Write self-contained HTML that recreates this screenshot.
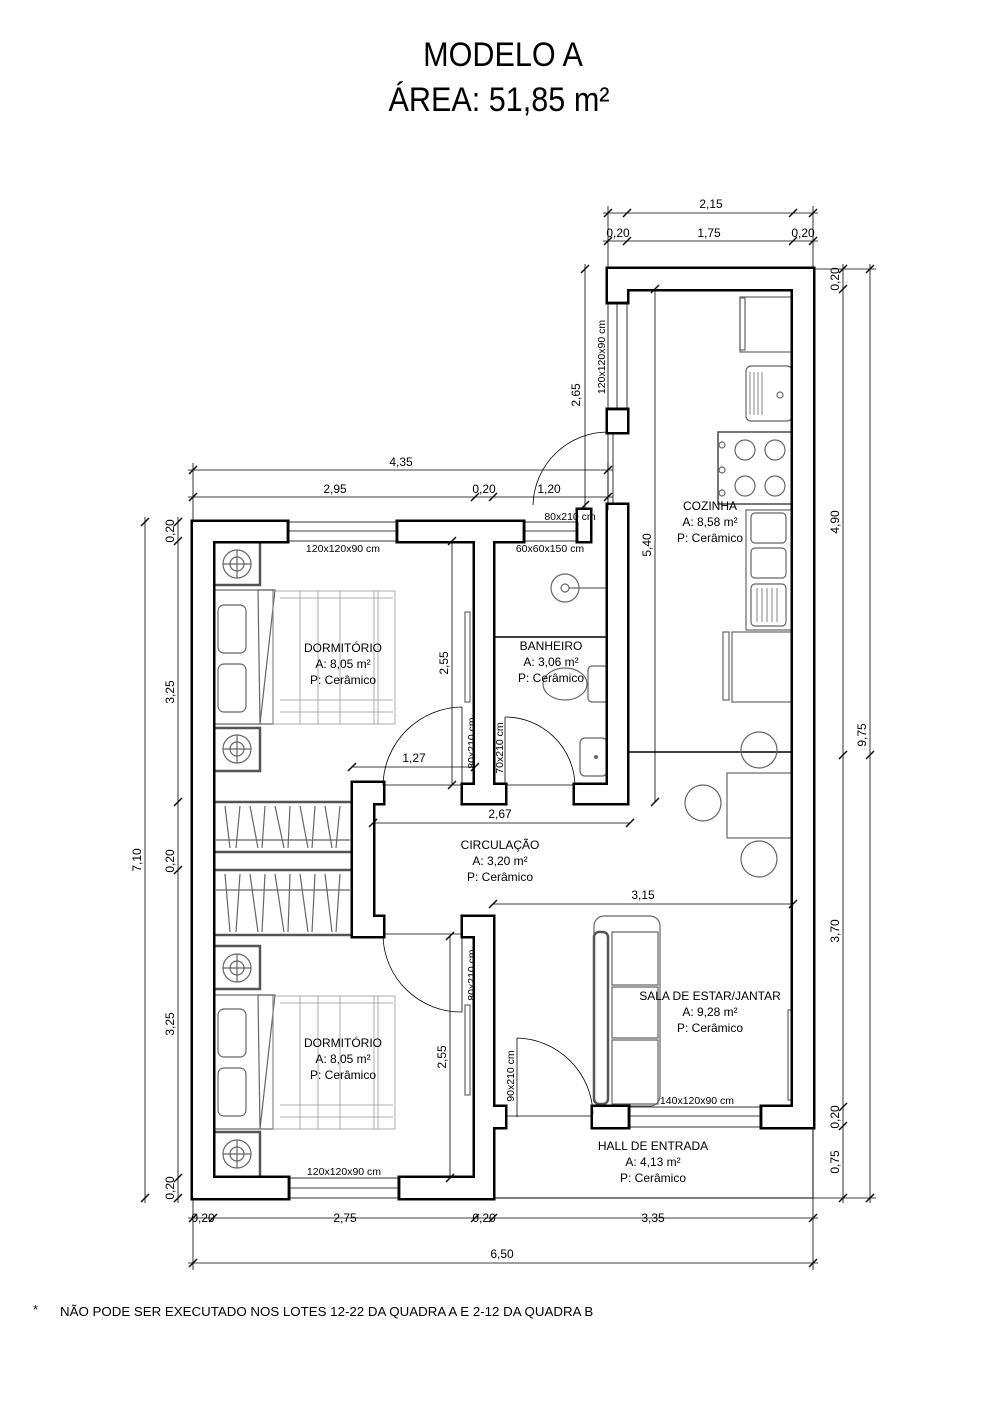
<!DOCTYPE html>
<html><head><meta charset="utf-8"><style>
html,body{margin:0;padding:0;background:#fff}
svg{display:block}
text{font-family:"Liberation Sans",Arial,sans-serif;fill:#000}
.t{font-size:12px}
.d{font-size:12px}
.thin{stroke:#000;stroke-width:0.8;fill:none}
.tick{stroke:#000;stroke-width:1.4}
.f{fill:none;stroke:#666;stroke-width:1.2}
.fd{fill:none;stroke:#555;stroke-width:2.5}
</style></head><body>
<svg width="1000" height="1415" viewBox="0 0 1000 1415" xmlns="http://www.w3.org/2000/svg">
<defs>
<g id="walls">
 <rect x="193" y="522" width="20" height="676"/>
 <rect x="193" y="522" width="94" height="19"/>
 <rect x="398" y="522" width="125" height="19"/>
 <rect x="578" y="510" width="12" height="31"/>
 <rect x="475" y="522" width="18" height="281"/>
 <rect x="463" y="785" width="30" height="18"/>
 <rect x="493" y="785" width="12" height="18"/>
 <rect x="575" y="785" width="52" height="18"/>
 <rect x="608" y="505" width="19" height="298"/>
 <rect x="608" y="269" width="205" height="20"/>
 <rect x="608" y="269" width="19" height="33"/>
 <rect x="608" y="410" width="19" height="22"/>
 <rect x="793" y="269" width="20" height="857"/>
 <rect x="353" y="783" width="30" height="20"/>
 <rect x="353" y="783" width="20" height="153"/>
 <rect x="353" y="917" width="30" height="19"/>
 <rect x="463" y="917" width="30" height="19"/>
 <rect x="475" y="917" width="18" height="281"/>
 <rect x="193" y="1178" width="95" height="20"/>
 <rect x="400" y="1178" width="93" height="20"/>
 <rect x="493" y="1107" width="12" height="20"/>
 <rect x="593" y="1107" width="35" height="20"/>
 <rect x="762" y="1107" width="51" height="20"/>
</g>
</defs>
<!-- titles -->
<text x="503" y="66" font-size="34" text-anchor="middle" transform="translate(503 0) scale(0.9 1) translate(-503 0)">MODELO A</text>
<text x="499" y="111" font-size="34" text-anchor="middle" transform="translate(499 0) scale(0.9 1) translate(-499 0)">ÁREA: 51,85 m²</text>

<polyline class="thin" points="493,1198 813,1198 813,1126" style="stroke-width:1"/>

<!-- furniture -->
<g>
 <rect x="213" y="542" width="47" height="43" class="fd"/><circle cx="237" cy="564" r="14" class="f"/><circle cx="237" cy="564" r="7" class="f"/><line x1="223" y1="564" x2="251" y2="564" class="f"/><line x1="237" y1="550" x2="237" y2="578" class="f"/>
 <rect x="213" y="728" width="47" height="43" class="fd"/><circle cx="237" cy="749" r="14" class="f"/><circle cx="237" cy="749" r="7" class="f"/><line x1="223" y1="749" x2="251" y2="749" class="f"/><line x1="237" y1="735" x2="237" y2="763" class="f"/>
 <rect x="213" y="590" width="60" height="134" class="f"/><rect x="218" y="605" width="28" height="48" rx="6" class="f"/><rect x="218" y="664" width="28" height="48" rx="6" class="f"/>
 <path d="M258,590 L275,590 L260,724 Z" class="f"/>
 <rect x="273" y="591" width="122" height="133" class="f" style="stroke:#999;stroke-width:0.8"/>
 <path d="M280,598H393M280,700H393M280,712H393M300,591V724M318,591V724M340,591V724M374,591V724M378,591V724" class="f" style="stroke:#999;stroke-width:0.8"/>
 <rect x="213" y="802" width="139" height="50" class="fd"/><line x1="216" y1="840" x2="350" y2="840" class="f"/>
 <path d="M225,806 L230,848 M240,806 L236,848 M250,806 L258,848 M265,806 L262,848 M275,806 L284,848 M290,806 L288,848 M300,806 L308,848 M315,806 L312,848 M325,806 L332,848 M340,806 L336,848" class="f"/>
 <rect x="213" y="870" width="139" height="65" class="fd"/><line x1="216" y1="890" x2="350" y2="890" class="f"/>
 <path d="M225,874 L230,932 M240,874 L236,932 M250,874 L258,932 M265,874 L262,932 M275,874 L284,932 M290,874 L288,932 M300,874 L308,932 M315,874 L312,932 M325,874 L332,932 M340,874 L336,932" class="f"/>
 <rect x="213" y="946" width="47" height="43" class="fd"/><circle cx="237" cy="968" r="14" class="f"/><circle cx="237" cy="968" r="7" class="f"/><line x1="223" y1="968" x2="251" y2="968" class="f"/><line x1="237" y1="954" x2="237" y2="982" class="f"/>
 <rect x="213" y="1132" width="47" height="46" class="fd"/><circle cx="237" cy="1154" r="14" class="f"/><circle cx="237" cy="1154" r="7" class="f"/><line x1="223" y1="1154" x2="251" y2="1154" class="f"/><line x1="237" y1="1140" x2="237" y2="1168" class="f"/>
 <rect x="213" y="995" width="60" height="134" class="f"/><rect x="218" y="1009" width="28" height="48" rx="6" class="f"/><rect x="218" y="1068" width="28" height="48" rx="6" class="f"/>
 <path d="M258,995 L275,995 L260,1129 Z" class="f"/>
 <rect x="273" y="996" width="122" height="133" class="f" style="stroke:#999;stroke-width:0.8"/>
 <path d="M280,1003H393M280,1105H393M280,1117H393M300,996V1129M318,996V1129M340,996V1129M374,996V1129M378,996V1129" class="f" style="stroke:#999;stroke-width:0.8"/>
 <line x1="493" y1="637" x2="608" y2="637" stroke="#000" stroke-width="1.6"/>
 <circle cx="565" cy="588" r="14" class="f"/><circle cx="565" cy="588" r="4" class="f"/><line x1="569" y1="588" x2="606" y2="588" class="f"/>
 <rect x="588" y="666" width="20" height="36" rx="4" class="f"/><ellipse cx="565" cy="684" rx="22" ry="16" class="f"/>
 <rect x="580" y="738" width="27" height="38" rx="5" class="f"/><circle cx="596" cy="757" r="2" fill="#666"/>
 <rect x="740" y="297" width="52" height="55" class="f"/><rect x="740" y="298" width="5" height="52" class="f"/>
 <rect x="746" y="366" width="46" height="55" rx="5" class="f"/><path d="M750,372V415M754,372V415M758,372V415M762,372V415" class="f" style="stroke-width:0.8"/><circle cx="780" cy="395" r="3" class="f"/>
 <rect x="718" y="432" width="75" height="72" class="fd" style="stroke-width:1.6"/>
 <circle cx="745" cy="450" r="10" class="f"/><circle cx="775" cy="450" r="10" class="f"/><circle cx="745" cy="486" r="10" class="f"/><circle cx="775" cy="486" r="10" class="f"/>
 <circle cx="722" cy="445" r="3" class="f"/><circle cx="722" cy="470" r="3" class="f"/><circle cx="722" cy="493" r="3" class="f"/>
 <rect x="746" y="510" width="47" height="120" class="f"/><rect x="751" y="513" width="35" height="30" rx="4" class="f"/><rect x="751" y="548" width="35" height="30" rx="4" class="f"/><rect x="751" y="584" width="35" height="42" rx="4" class="f"/>
 <path d="M757,588V622M762,588V622M767,588V622M772,588V622M777,588V622" class="f" style="stroke-width:0.8"/>
 <rect x="732" y="632" width="61" height="70" class="f"/><rect x="723" y="632" width="6" height="68" class="f"/>
 <line x1="628" y1="752" x2="793" y2="752" stroke="#000" stroke-width="1.4"/>
 <rect x="727" y="773" width="66" height="65" class="f"/>
 <circle cx="759" cy="750" r="18" class="f"/><circle cx="703" cy="803" r="18" class="f"/><circle cx="759" cy="859" r="18" class="f"/>
 <rect x="594" y="916" width="66" height="190" rx="10" class="f"/>
 <rect x="594" y="932" width="14" height="172" rx="5" class="fd"/>
 <path d="M612,932H658V985H612ZM612,987H658V1038H612ZM612,1040H658V1104H612Z" class="f"/>
 <rect x="788" y="1010" width="5" height="90" class="f"/>
 <rect x="465" y="612" width="5" height="90" class="f"/>
 <rect x="465" y="1005" width="5" height="90" class="f"/>
</g>

<!-- walls: outline pass then fill pass (merges seams) -->
<use href="#walls" fill="#000" stroke="#000" stroke-width="5"/>
<use href="#walls" fill="#fff" stroke="none"/>

<!-- windows -->
<g class="thin">
 <rect x="287" y="522" width="111" height="19"/><line x1="287" y1="531" x2="398" y2="531"/>
 <rect x="288" y="1178" width="112" height="20"/><line x1="288" y1="1188" x2="400" y2="1188"/>
 <rect x="523" y="522" width="55" height="19"/><line x1="523" y1="531" x2="578" y2="531"/>
 <rect x="608" y="302" width="19" height="108"/><line x1="617" y1="302" x2="617" y2="410"/>
 <rect x="628" y="1107" width="134" height="20"/><line x1="628" y1="1116" x2="762" y2="1116"/>
 <line x1="608" y1="432" x2="608" y2="505"/><line x1="613" y1="432" x2="613" y2="505"/>
</g>
<g class="thin">
 <path d="M608,432 A75,75 0 0 0 533,505"/>
 <line x1="462" y1="707" x2="462" y2="785"/><path d="M462,707 A80,80 0 0 0 383,785"/><line x1="383" y1="785" x2="462" y2="785"/>
 <line x1="505" y1="717" x2="505" y2="785"/><path d="M505,717 A70,70 0 0 1 575,785"/><line x1="505" y1="785" x2="575" y2="785"/>
 <line x1="462" y1="1012" x2="462" y2="936"/><path d="M383,936 A78,78 0 0 0 462,1012"/><line x1="383" y1="934" x2="462" y2="934"/>
 <line x1="517" y1="1038" x2="517" y2="1117"/><path d="M517,1038 A78,78 0 0 1 593,1114"/><line x1="505" y1="1116" x2="593" y2="1116"/>
</g>

<g class="thin">
 <line x1="603" y1="213" x2="818" y2="213"/>
 <line x1="603" y1="241" x2="818" y2="241"/>
 <line x1="608" y1="206" x2="608" y2="269"/><line x1="813" y1="206" x2="813" y2="269"/>
 <line x1="188" y1="470" x2="613" y2="470"/>
 <line x1="188" y1="497" x2="613" y2="497"/>
 <line x1="193" y1="463" x2="193" y2="522"/><line x1="608" y1="463" x2="608" y2="510"/>
 <line x1="585" y1="264" x2="585" y2="510"/>
 <line x1="178" y1="517" x2="178" y2="1203"/>
 <line x1="145" y1="517" x2="145" y2="1203"/>
 <line x1="188" y1="1218" x2="818" y2="1218"/>
 <line x1="188" y1="1263" x2="818" y2="1263"/>
 <line x1="193" y1="1198" x2="193" y2="1270"/><line x1="813" y1="1198" x2="813" y2="1270"/>
 <line x1="843" y1="264" x2="843" y2="1203"/>
 <line x1="870" y1="264" x2="870" y2="1203"/>
 <line x1="813" y1="269" x2="876" y2="269"/>
 <line x1="813" y1="1198" x2="876" y2="1198"/>
 <line x1="452" y1="541" x2="452" y2="785"/>
 <line x1="450" y1="936" x2="450" y2="1178"/>
 <line x1="352" y1="767" x2="475" y2="767"/>
 <line x1="373" y1="823" x2="630" y2="823"/>
 <line x1="493" y1="904" x2="793" y2="904"/>
 <line x1="655" y1="289" x2="655" y2="802"/>
</g>
<g class="tick">
 <path d="M604,217L612,209M623,217L631,209M789,217L797,209M809,217L817,209"/>
 <path d="M604,245L612,237M623,245L631,237M789,245L797,237M809,245L817,237"/>
 <path d="M189,474L197,466M604,474L612,466"/>
 <path d="M189,501L197,493M471,501L479,493M489,501L497,493M604,501L612,493"/>
 <path d="M581,273L589,265M581,509L589,501"/>
 <path d="M174,526L182,518M174,545L182,537M174,806L182,798M174,874L182,866M174,1182L182,1174M174,1202L182,1194"/>
 <path d="M141,526L149,518M141,1202L149,1194"/>
 <path d="M189,1222L197,1214M209,1222L217,1214M471,1222L479,1214M489,1222L497,1214M809,1222L817,1214"/>
 <path d="M189,1267L197,1259M809,1267L817,1259"/>
 <path d="M839,273L847,265M839,293L847,285M839,759L847,751M839,1111L847,1103M839,1130L847,1122M839,1202L847,1194"/>
 <path d="M866,273L874,265M866,759L874,751M866,1202L874,1194"/>
 <path d="M448,545L456,537M448,789L456,781M446,940L454,932M446,1182L454,1174"/>
 <path d="M348,771L356,763M471,771L479,763"/>
 <path d="M369,827L377,819M626,827L634,819"/>
 <path d="M489,908L497,900M789,908L797,900"/>
 <path d="M651,293L659,285M651,806L659,798"/>
</g>

<g class="d" text-anchor="middle">
 <text x="711" y="208">2,15</text>
 <text x="618" y="237">0,20</text><text x="709" y="237">1,75</text><text x="803" y="237">0,20</text>
 <text x="401" y="466">4,35</text>
 <text x="335" y="493">2,95</text><text x="484" y="493">0,20</text><text x="549" y="493">1,20</text>
 <text x="203" y="1222">0,20</text><text x="345" y="1222">2,75</text><text x="484" y="1222">0,20</text><text x="653" y="1222">3,35</text>
 <text x="502" y="1258">6,50</text>
 <text x="414" y="762">1,27</text>
 <text x="500" y="818">2,67</text>
 <text x="643" y="899">3,15</text>
 <text transform="translate(174,531) rotate(-90)">0,20</text>
 <text transform="translate(174,692) rotate(-90)">3,25</text>
 <text transform="translate(174,861) rotate(-90)">0,20</text>
 <text transform="translate(174,1024) rotate(-90)">3,25</text>
 <text transform="translate(174,1188) rotate(-90)">0,20</text>
 <text transform="translate(141,860) rotate(-90)">7,10</text>
 <text transform="translate(839,279) rotate(-90)">0,20</text>
 <text transform="translate(839,522) rotate(-90)">4,90</text>
 <text transform="translate(839,931) rotate(-90)">3,70</text>
 <text transform="translate(839,1117) rotate(-90)">0,20</text>
 <text transform="translate(839,1162) rotate(-90)">0,75</text>
 <text transform="translate(866,735) rotate(-90)">9,75</text>
 <text transform="translate(580,395) rotate(-90)">2,65</text>
 <text transform="translate(448,663) rotate(-90)">2,55</text>
 <text transform="translate(446,1057) rotate(-90)">2,55</text>
 <text transform="translate(651,545) rotate(-90)">5,40</text>
</g>
<g font-size="10.5" text-anchor="middle">
 <text x="343" y="552">120x120x90 cm</text>
 <text x="344" y="1175">120x120x90 cm</text>
 <text x="550" y="552">60x60x150 cm</text>
 <text x="570" y="520">80x210 cm</text>
 <text x="697" y="1104">140x120x90 cm</text>
 <text transform="translate(605,357) rotate(-90)">120x120x90 cm</text>
 <text transform="translate(475,743) rotate(-90)">80x210 cm</text>
 <text transform="translate(503,748) rotate(-90)">70x210 cm</text>
 <text transform="translate(475,975) rotate(-90)">80x210 cm</text>
 <text transform="translate(514,1076) rotate(-90)">90x210 cm</text>
</g>

<g class="t" text-anchor="middle">
 <text x="343" y="652">DORMITÓRIO</text><text x="343" y="668">A: 8,05 m²</text><text x="343" y="684">P: Cerâmico</text>
 <text x="343" y="1047">DORMITÓRIO</text><text x="343" y="1063">A: 8,05 m²</text><text x="343" y="1079">P: Cerâmico</text>
 <text x="551" y="650">BANHEIRO</text><text x="551" y="666">A: 3,06 m²</text><text x="551" y="682">P: Cerâmico</text>
 <text x="710" y="510">COZINHA</text><text x="710" y="526">A: 8,58 m²</text><text x="710" y="542">P: Cerâmico</text>
 <text x="500" y="849">CIRCULAÇÃO</text><text x="500" y="865">A: 3,20 m²</text><text x="500" y="881">P: Cerâmico</text>
 <text x="710" y="1000">SALA DE ESTAR/JANTAR</text><text x="710" y="1016">A: 9,28 m²</text><text x="710" y="1032">P: Cerâmico</text>
 <text x="653" y="1150">HALL DE ENTRADA</text><text x="653" y="1166">A: 4,13 m²</text><text x="653" y="1182">P: Cerâmico</text>
</g>
<text x="33" y="1314" font-size="13">*</text>
<text x="60" y="1316" font-size="13.3">NÃO PODE SER EXECUTADO NOS LOTES 12-22 DA QUADRA A E 2-12 DA QUADRA B</text>
</svg>
</body></html>
